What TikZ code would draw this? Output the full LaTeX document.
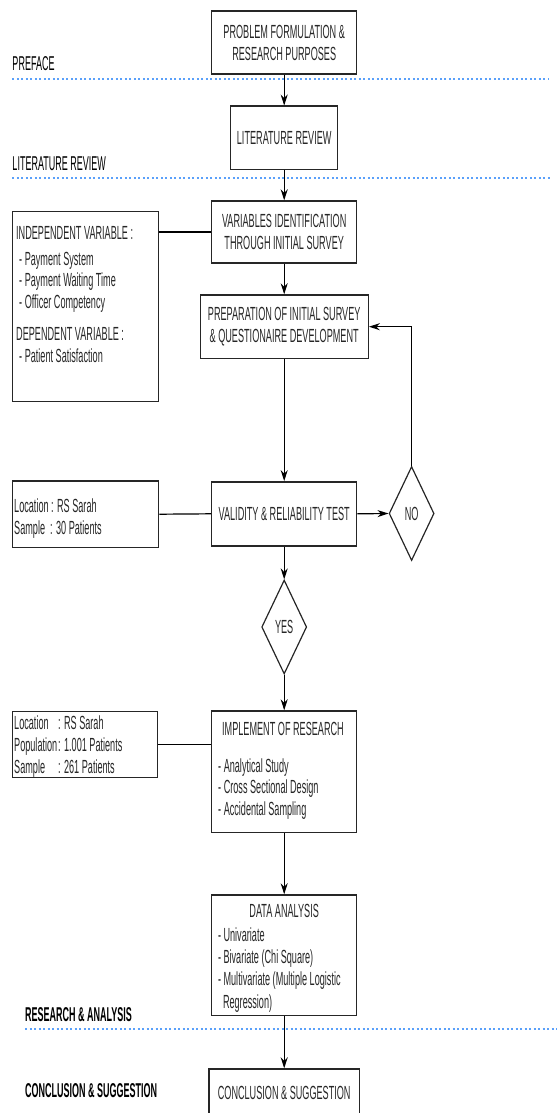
\documentclass[tikz,border=0pt]{standalone}
\usepackage{fontspec}
\setmainfont{Liberation Sans}[FakeStretch=0.48]
\newfontfamily\stagefont{Liberation Sans}[FakeStretch=0.45]
\usetikzlibrary{arrows.meta, positioning, shapes.geometric, calc}
\definecolor{sepblue}{RGB}{90,160,250}

\begin{document}
\begin{tikzpicture}[
    x=1pt, y=-1pt,
    every node/.style={font=\fontsize{19}{22}\selectfont, text=black!85},
    box/.style={rectangle, draw=black!85, line width=1.4pt, minimum width=145pt, minimum height=63pt, inner sep=0pt, align=center},
    notebox/.style={rectangle, draw=black!85, line width=1.4pt, minimum width=146pt, inner sep=0pt},
    decision/.style={diamond, draw=black!85, line width=1.2pt, minimum width=45pt, minimum height=94pt, inner sep=0pt},
    stage/.style={anchor=base west, inner sep=0pt, text=black, font=\stagefont\fontsize{20}{22}\selectfont},
    boldstage/.style={stage, font=\stagefont\bfseries\fontsize{20}{22}\selectfont},
    txt/.style={anchor=north west, inner sep=0pt, align=left, font=\fontsize{19}{21.5}\selectfont},
    sepline/.style={sepblue, line width=2pt, dash pattern=on 2pt off 2.5pt},
    flow/.style={line width=1.2pt, -{Stealth[length=11pt, width=7pt]}},
    link/.style={line width=1.2pt}
]
    \path[use as bounding box, clip] (0,0) rectangle (558,1113);

    % stage labels and separators
    \node[stage] (preface) at (12.3,70.7) {PREFACE};
    \node[stage] (litlabel) at (12.3,170.7) {LITERATURE REVIEW};
    \node[boldstage] (reslabel) at (25,1021.7) {RESEARCH \& ANALYSIS};
    \node[boldstage] (conlabel) at (25,1097.3) {CONCLUSION \& SUGGESTION};
    \draw[sepline] (12.3,79.3) -- (549,79.3);
    \draw[sepline] (12.3,178.3) -- (550,178.3);
    \draw[sepline] (25,1029) -- (557,1029);

    % main flow
    \node[box] (problem) at (284.2,42.5) {PROBLEM FORMULATION \&\\RESEARCH PURPOSES};
    \node[box, minimum width=107pt] (litrev) at (284.2,137.7) {LITERATURE REVIEW};
    \node[box, minimum height=62pt] (varid) at (284.2,232) {VARIABLES IDENTIFICATION\\THROUGH INITIAL SURVEY};
    \node[box, minimum width=168pt, minimum height=63.5pt] (prep) at (284.2,326.7) {PREPARATION OF INITIAL SURVEY\\\& QUESTIONAIRE DEVELOPMENT};
    \node[box, minimum height=64pt] (test) at (284.2,513.8) {VALIDITY \& RELIABILITY TEST};
    \node[decision] (no) at (411.6,513.5) {NO};
    \node[decision] (yes) at (284.2,627) {YES};
    \node[box, minimum height=121.7pt] (impl) at (284.2,771.8) {};
    \node[inner sep=0pt] (impltitle) at (283,729.3) {IMPLEMENT OF RESEARCH};
    \node[txt] (impllist) at (218,758.2) {- Analytical Study\\- Cross Sectional Design\\- Accidental Sampling};
    \node[box, minimum height=120.7pt] (analysis) at (284.2,955.3) {};
    \node[inner sep=0pt] (antitle) at (284.2,910.7) {DATA ANALYSIS};
    \node[txt, font=\fontsize{19}{22.2}\selectfont] (anlist) at (217.8,927.5) {- Univariate\\- Bivariate (Chi Square)\\- Multivariate (Multiple Logistic\\\hspace*{5pt}Regression)};
    \node[box, minimum width=150.7pt, minimum height=48pt] (concl) at (284.2,1093) {CONCLUSION \& SUGGESTION};

    % side notes
    \node[notebox, minimum height=190pt] (vars) at (85.7,306.7) {};
    \node[txt] (varstext) at (16,225.9) {INDEPENDENT VARIABLE :\\[4.5pt]
        \hspace*{3pt}- Payment System\\
        \hspace*{3pt}- Payment Waiting Time\\
        \hspace*{3pt}- Officer Competency\\[11pt]
        DEPENDENT VARIABLE :\\
        \hspace*{3pt}- Patient Satisfaction};
    \node[notebox, minimum height=66.3pt] (site) at (85.7,514.2) {};
    \node[txt, font=\fontsize{19}{22}\selectfont] (sitetext) at (14,498.2) {Location : RS Sarah\\Sample~~: 30 Patients};
    \node[notebox, minimum width=145pt, minimum height=65.6pt] (sample) at (85.2,744.5) {};
    \node[txt, font=\fontsize{19}{22}\selectfont] (sampletext) at (14,715.9) {\makebox[44pt][l]{Location}: RS Sarah\\
        \makebox[44pt][l]{Population}: 1.001 Patients\\
        \makebox[44pt][l]{Sample}: 261 Patients};

    % connectors
    \draw[flow] (problem.south) -- (litrev.north);
    \draw[flow] (litrev.south) -- (varid.north);
    \draw[flow] (varid.south) -- (prep.north);
    \draw[flow] (prep.south) -- (test.north);
    \draw[link] (varid.west) -- (varid.west -| vars.east);
    \draw[link] (site.east) -- (test.west);
    \draw[flow] (test.east) -- (no.west);
    \draw[flow] (no.north) |- (prep.east);
    \draw[flow] (test.south) -- (yes.north);
    \draw[flow] (yes.south) -- (impl.north);
    \draw[link] (sample.east) -- (sample.east -| impl.west);
    \draw[flow] (impl.south) -- (analysis.north);
    \draw[flow] (analysis.south) -- (concl.north);
\end{tikzpicture}
\end{document}
